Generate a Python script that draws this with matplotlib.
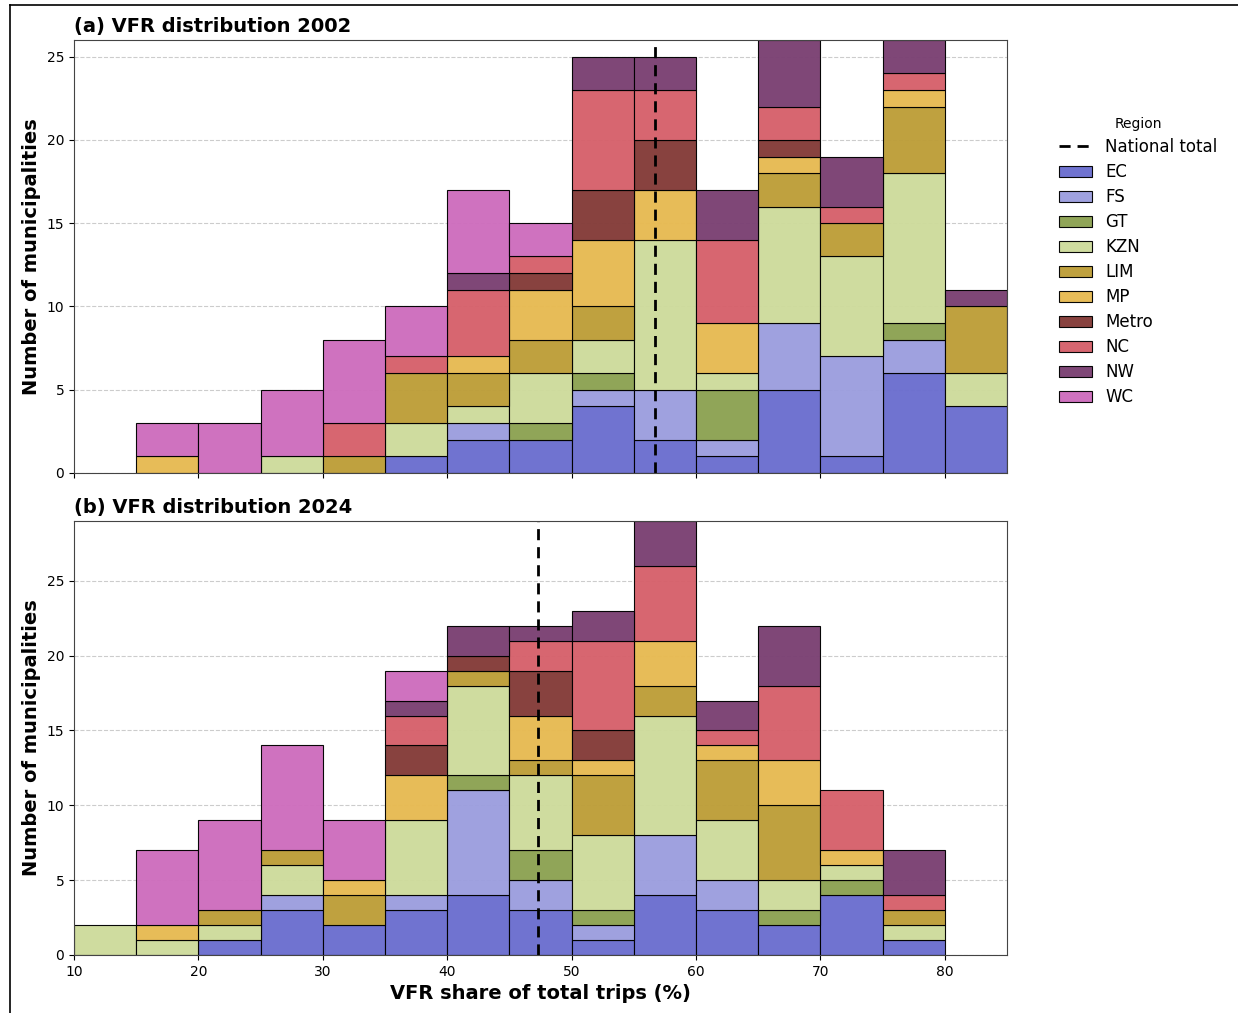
import numpy as np
import matplotlib
matplotlib.use("Agg")
import matplotlib.pyplot as plt
from matplotlib.lines import Line2D
from matplotlib.patches import Patch

# bins of 5 percentage points, left edges
bin_edges = [10, 15, 20, 25, 30, 35, 40, 45, 50, 55, 60, 65, 70, 75, 80]
bin_width = 5

regions = ["EC", "FS", "GT", "KZN", "LIM", "MP", "Metro", "NC", "NW", "WC"]
colors = ["#6b6ecf", "#9c9ede", "#8ca252", "#cedb9c", "#bd9e39",
          "#e7ba52", "#843c39", "#d6616b", "#7b4173", "#ce6dbd"]

counts_2002 = {
    "EC":    [0, 0, 0, 0, 0, 1, 2, 2, 4, 2, 1, 5, 1, 6, 4],
    "FS":    [0, 0, 0, 0, 0, 0, 1, 0, 1, 3, 1, 4, 6, 2, 0],
    "GT":    [0, 0, 0, 0, 0, 0, 0, 1, 1, 0, 3, 0, 0, 1, 0],
    "KZN":   [0, 0, 0, 1, 0, 2, 1, 3, 2, 9, 1, 7, 6, 9, 2],
    "LIM":   [0, 0, 0, 0, 1, 3, 2, 2, 2, 0, 0, 2, 2, 4, 4],
    "MP":    [0, 1, 0, 0, 0, 0, 1, 3, 4, 3, 3, 1, 0, 1, 0],
    "Metro": [0, 0, 0, 0, 0, 0, 0, 1, 3, 3, 0, 1, 0, 0, 0],
    "NC":    [0, 0, 0, 0, 2, 1, 4, 1, 6, 3, 5, 2, 1, 1, 0],
    "NW":    [0, 0, 0, 0, 0, 0, 1, 0, 2, 2, 3, 4, 3, 2, 1],
    "WC":    [0, 2, 3, 4, 5, 3, 5, 2, 0, 0, 0, 0, 0, 0, 0],
}

counts_2024 = {
    "EC":    [0, 0, 1, 3, 2, 3, 4, 3, 1, 4, 3, 2, 4, 1, 0],
    "FS":    [0, 0, 0, 1, 0, 1, 7, 2, 1, 4, 2, 0, 0, 0, 0],
    "GT":    [0, 0, 0, 0, 0, 0, 1, 2, 1, 0, 0, 1, 1, 0, 0],
    "KZN":   [2, 1, 1, 2, 0, 5, 6, 5, 5, 8, 4, 2, 1, 1, 0],
    "LIM":   [0, 0, 1, 1, 2, 0, 1, 1, 4, 2, 4, 5, 0, 1, 0],
    "MP":    [0, 1, 0, 0, 1, 3, 0, 3, 1, 3, 1, 3, 1, 0, 0],
    "Metro": [0, 0, 0, 0, 0, 2, 1, 3, 2, 0, 0, 0, 0, 0, 0],
    "NC":    [0, 0, 0, 0, 0, 2, 0, 2, 6, 5, 1, 5, 4, 1, 0],
    "NW":    [0, 0, 0, 0, 0, 1, 2, 1, 2, 3, 2, 4, 0, 3, 0],
    "WC":    [0, 5, 6, 7, 4, 2, 0, 0, 0, 0, 0, 0, 0, 0, 0],
}

national_2002 = 56.7
national_2024 = 47.3

EDGE = (0, 0, 0, 0.8)
ALPHA = 0.97


def draw_panel(ax, counts, national, title):
    x = np.array(bin_edges, dtype=float)
    bottom = np.zeros(len(bin_edges))
    for reg, col in zip(regions, colors):
        vals = np.array(counts[reg], dtype=float)
        keep = vals > 0
        ax.bar(x[keep], vals[keep], width=bin_width, bottom=bottom[keep],
               align="edge", color=col, alpha=ALPHA, edgecolor=EDGE,
               linewidth=0.8)
        bottom += vals
    ax.axvline(national, color="black", linestyle="--", linewidth=2,
               dashes=(4, 2.5))
    ax.set_ylim(0, bottom.max())
    ax.set_xlim(10, 85)
    ax.set_yticks([0, 5, 10, 15, 20, 25])
    ax.grid(axis="y", linestyle="--", color="#cccccc", linewidth=0.8)
    ax.set_axisbelow(True)
    ax.set_ylabel("Number of municipalities", fontsize=14, fontweight="bold")
    ax.set_title(title, loc="left", fontsize=14, fontweight="bold", pad=6)
    ax.tick_params(labelsize=10)
    for sp in ax.spines.values():
        sp.set_color("#444444")


fig = plt.figure(figsize=(12.38, 10.13), dpi=100)
ax1 = fig.add_axes([0.0598, 0.5331, 0.7536, 0.4274])
ax2 = fig.add_axes([0.0598, 0.0573, 0.7536, 0.4284], sharex=ax1)

draw_panel(ax1, counts_2002, national_2002, "(a) VFR distribution 2002")
draw_panel(ax2, counts_2024, national_2024, "(b) VFR distribution 2024")
ax1.tick_params(labelbottom=False)
ax2.set_xticks([10, 20, 30, 40, 50, 60, 70, 80])
ax2.set_xlabel("VFR share of total trips (%)", fontsize=14, fontweight="bold")

handles = [Line2D([0], [0], color="black", linestyle="--", linewidth=2,
                  dashes=(4, 2.5), label="National total")]
for reg, col in zip(regions, colors):
    handles.append(Patch(facecolor=col, alpha=ALPHA, edgecolor=EDGE,
                         linewidth=0.8, label=reg))
fig.legend(handles=handles, title="Region", loc="upper left",
           bbox_to_anchor=(0.843, 0.899), frameon=False, fontsize=12,
           title_fontsize=10, handlelength=2.0, labelspacing=0.42)

# screenshot frame
fig.add_artist(Line2D([0.008, 0.008], [0, 0.995], color="black", linewidth=1.2,
                      transform=fig.transFigure))
fig.add_artist(Line2D([0.008, 1.0], [0.995, 0.995], color="black", linewidth=1.2,
                      transform=fig.transFigure))

fig.savefig("out.png", dpi=100)
